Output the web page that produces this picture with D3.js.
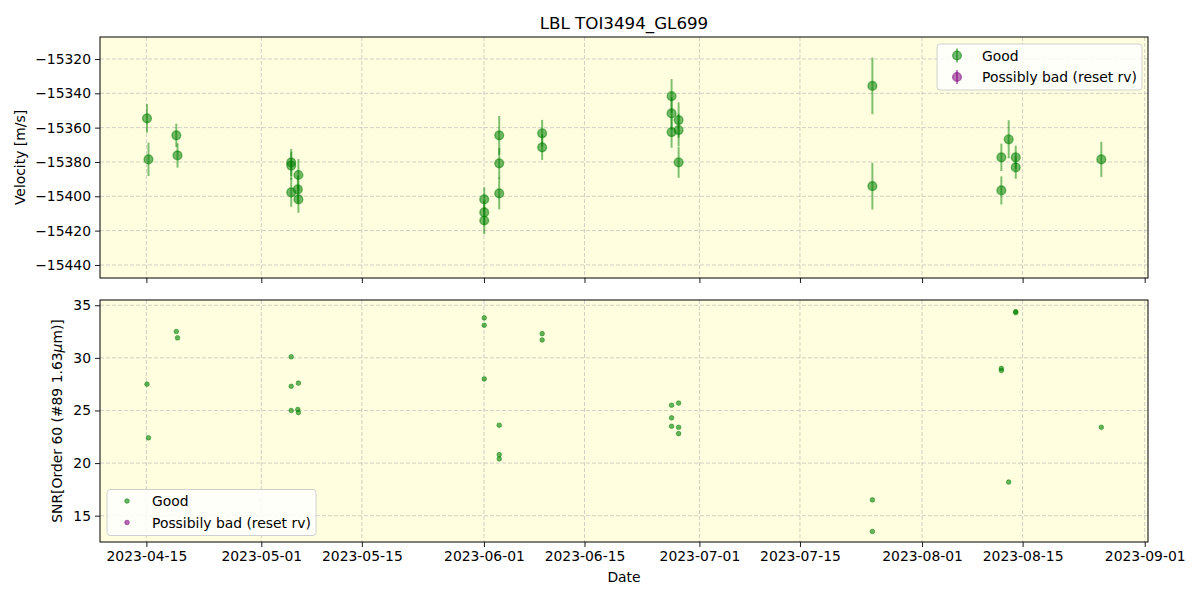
<!DOCTYPE html>
<html>
<head>
<meta charset="utf-8">
<script src="https://cdn.jsdelivr.net/npm/d3@7"></script>
<style>
  body { margin: 0; background: #fff; }
  svg { font-family: "DejaVu Sans", sans-serif; }
</style>
</head>
<body>
<div id="chart"></div>
<script>
// observation times (UTC), radial velocities, errors and SNR
var times = [
  "2023-04-15T02:00", "2023-04-15T07:00", "2023-04-19T04:00", "2023-04-19T08:00",
  "2023-05-05T04:00", "2023-05-05T04:00", "2023-05-05T04:00", "2023-05-06T02:00",
  "2023-05-06T04:00", "2023-05-06T04:00", "2023-06-01T01:00", "2023-06-01T01:00",
  "2023-06-01T01:00", "2023-06-03T03:00", "2023-06-03T03:00", "2023-06-03T03:00",
  "2023-06-09T02:30", "2023-06-09T02:30", "2023-06-27T03:00", "2023-06-27T03:00",
  "2023-06-27T03:00", "2023-06-28T02:30", "2023-06-28T02:30", "2023-06-28T02:30",
  "2023-07-25T02:00", "2023-07-25T02:00", "2023-08-12T01:00", "2023-08-12T01:00",
  "2023-08-13T01:30", "2023-08-14T01:00", "2023-08-14T01:00", "2023-08-25T23:00"
];
var rv = [
  -15354.6, -15378.5, -15364.5, -15376.2,
  -15380.3, -15382.1, -15397.7, -15396.0,
  -15387.6, -15401.8, -15401.8, -15409.4,
  -15414.1, -15364.5, -15380.8, -15398.3,
  -15363.3, -15371.5, -15341.6, -15351.7,
  -15362.6, -15355.6, -15361.4, -15380.2,
  -15335.7, -15394.1, -15377.3, -15396.6,
  -15366.8, -15377.3, -15383.2, -15378.5
];
var rvErr = [
  8.3, 9.7, 6.8, 7.1,
  7.9, 8.0, 8.4, 8.0,
  9.3, 7.8, 7.0, 7.0,
  8.0, 11.3, 9.0, 9.3,
  7.8, 7.4, 9.9, 9.5,
  9.1, 10.3, 9.5, 9.0,
  16.5, 13.6, 8.0, 8.2,
  11.1, 6.8, 6.6, 10.3
];
var snr = [
  27.5, 22.4, 32.5, 31.9,
  30.1, 27.3, 25.0, 25.1,
  27.6, 24.8, 33.8, 33.1,
  28.0, 23.6, 20.8, 20.4,
  32.3, 31.7, 25.5, 24.3,
  23.5, 25.7, 23.4, 22.8,
  16.5, 13.5, 29.0, 28.8,
  18.2, 34.4, 34.3, 23.4
];
var xTicks = ["2023-04-15", "2023-05-01", "2023-05-15", "2023-06-01", "2023-06-15",
              "2023-07-01", "2023-07-15", "2023-08-01", "2023-08-15", "2023-09-01"];
var rvTicks = [-15320, -15340, -15360, -15380, -15400, -15420, -15440];
var snrTicks = [15, 20, 25, 30, 35];

var W = 1200, H = 600;
var left = 100, right = 1148;
var top1 = 37, bot1 = 278, top2 = 300, bot2 = 542;
var green = "#008000", purple = "#800080";

var parse = d3.utcParse("%Y-%m-%dT%H:%M");
var parseDay = d3.utcParse("%Y-%m-%d");
var data = times.map(function (t, i) {
  return { t: parse(t), rv: rv[i], err: rvErr[i], snr: snr[i] };
});

var svg = d3.select("#chart").append("svg")
  .attr("width", W).attr("height", H);

var x = d3.scaleUtc()
  .domain([parse("2023-04-08T13:00"), parse("2023-09-01T11:00")])
  .range([left, right]);
var y1 = d3.scaleLinear().domain([-15447.6, -15307.2]).range([bot1, top1]);
var y2 = d3.scaleLinear().domain([12.5, 35.5]).range([bot2, top2]);

function panel(yScale, yTickVals, top, bot, showLabels, yFmt) {
  var g = svg.append("g");
  g.append("rect").attr("x", left).attr("y", top)
    .attr("width", right - left).attr("height", bot - top)
    .attr("fill", "#ffffe0");
  // grid
  g.selectAll(".vg").data(xTicks).enter().append("line")
    .attr("x1", function (d) { return x(parseDay(d)); })
    .attr("x2", function (d) { return x(parseDay(d)); })
    .attr("y1", top).attr("y2", bot)
    .attr("stroke", "#b0b0b0").attr("stroke-opacity", 0.6)
    .attr("stroke-width", 1).attr("stroke-dasharray", "4,2");
  g.selectAll(".hg").data(yTickVals).enter().append("line")
    .attr("y1", function (d) { return yScale(d); })
    .attr("y2", function (d) { return yScale(d); })
    .attr("x1", left).attr("x2", right)
    .attr("stroke", "#b0b0b0").attr("stroke-opacity", 0.6)
    .attr("stroke-width", 1).attr("stroke-dasharray", "4,2");

  var xa = d3.axisBottom(x).tickValues(xTicks.map(parseDay))
    .tickSize(5).tickPadding(4)
    .tickFormat(showLabels ? d3.utcFormat("%Y-%m-%d") : "");
  var gx = svg.append("g").attr("transform", "translate(0," + bot + ")").call(xa);
  var ya = d3.axisLeft(yScale).tickValues(yTickVals).tickSize(5).tickPadding(4)
    .tickFormat(yFmt);
  var gy = svg.append("g").attr("transform", "translate(" + left + ",0)").call(ya);
  [gx, gy].forEach(function (a) {
    a.select(".domain").remove();
    a.selectAll("line").attr("stroke", "#000").attr("stroke-width", 0.9);
    a.selectAll("text").attr("fill", "#000").style("font-size", "13.9px")
      .style("font-family", "DejaVu Sans");
  });
  return g;
}

var p1 = panel(y1, rvTicks, top1, bot1, false, d3.format(""));
var p2 = panel(y2, snrTicks, top2, bot2, true, d3.format("d"));

// error bars + markers (top)
p1.selectAll(".eb").data(data).enter().append("line")
  .attr("x1", function (d) { return x(d.t); })
  .attr("x2", function (d) { return x(d.t); })
  .attr("y1", function (d) { return y1(d.rv - d.err); })
  .attr("y2", function (d) { return y1(d.rv + d.err); })
  .attr("stroke", green).attr("stroke-opacity", 0.5).attr("stroke-width", 2);
p1.selectAll(".pt").data(data).enter().append("circle")
  .attr("cx", function (d) { return x(d.t); })
  .attr("cy", function (d) { return y1(d.rv); })
  .attr("r", 4.4)
  .attr("fill", green).attr("fill-opacity", 0.55)
  .attr("stroke", green).attr("stroke-opacity", 0.5).attr("stroke-width", 1.4);

// SNR points (bottom)
p2.selectAll(".sp").data(data).enter().append("circle")
  .attr("cx", function (d) { return x(d.t); })
  .attr("cy", function (d) { return y2(d.snr); })
  .attr("r", 2.3)
  .attr("fill", green).attr("fill-opacity", 0.6)
  .attr("stroke", green).attr("stroke-opacity", 0.5).attr("stroke-width", 1);

// frames
[[top1, bot1], [top2, bot2]].forEach(function (b) {
  svg.append("rect").attr("x", left).attr("y", b[0])
    .attr("width", right - left).attr("height", b[1] - b[0])
    .attr("fill", "none").attr("stroke", "#000").attr("stroke-width", 1);
});

// legends
function legend(x0, y0, w, h, labels, big) {
  var g = svg.append("g");
  g.append("rect").attr("x", x0).attr("y", y0).attr("width", w).attr("height", h)
    .attr("rx", 3).attr("fill", "#fff").attr("fill-opacity", 0.8)
    .attr("stroke", "#d0d0d0").attr("stroke-width", 1);
  labels.forEach(function (l, i) {
    var cy = y0 + 11.5 + i * 21.5;
    var mx = x0 + 20;
    if (big) {
      g.append("line").attr("x1", mx).attr("x2", mx).attr("y1", cy - 7).attr("y2", cy + 7)
        .attr("stroke", l.c).attr("stroke-opacity", 0.5).attr("stroke-width", 2);
      g.append("circle").attr("cx", mx).attr("cy", cy).attr("r", 4.4)
        .attr("fill", l.c).attr("fill-opacity", 0.55)
        .attr("stroke", l.c).attr("stroke-opacity", 0.5).attr("stroke-width", 1.4);
    } else {
      g.append("circle").attr("cx", mx).attr("cy", cy).attr("r", 2.3)
        .attr("fill", l.c).attr("fill-opacity", 0.6)
        .attr("stroke", l.c).attr("stroke-opacity", 0.5).attr("stroke-width", 1);
    }
    g.append("text").attr("x", x0 + 45).attr("y", cy).attr("dy", "0.36em")
      .style("font-size", "13.9px").text(l.t);
  });
}
legend(937, 44, 205, 46, [{ t: "Good", c: green }, { t: "Possibly bad (reset rv)", c: purple }], true);
legend(107, 489.5, 209, 46, [{ t: "Good", c: green }, { t: "Possibily bad (reset rv)", c: purple }], false);

// titles and labels
svg.append("text").attr("x", (left + right) / 2).attr("y", 29)
  .attr("text-anchor", "middle").style("font-size", "16.7px").text("LBL TOI3494_GL699");
svg.append("text").attr("x", (left + right) / 2).attr("y", 582)
  .attr("text-anchor", "middle").style("font-size", "13.9px").text("Date");
svg.append("text")
  .attr("transform", "translate(25," + (top1 + bot1) / 2 + ") rotate(-90)")
  .attr("text-anchor", "middle").style("font-size", "13.9px").text("Velocity [m/s]");
var yl = svg.append("text")
  .attr("transform", "translate(62," + (top2 + bot2) / 2 + ") rotate(-90)")
  .attr("text-anchor", "middle").style("font-size", "13.9px");
yl.append("tspan").text("SNR[Order 60 (#89 1.63");
yl.append("tspan").style("font-style", "italic").text("μ");
yl.append("tspan").text("m)]");
</script>
</body>
</html>
